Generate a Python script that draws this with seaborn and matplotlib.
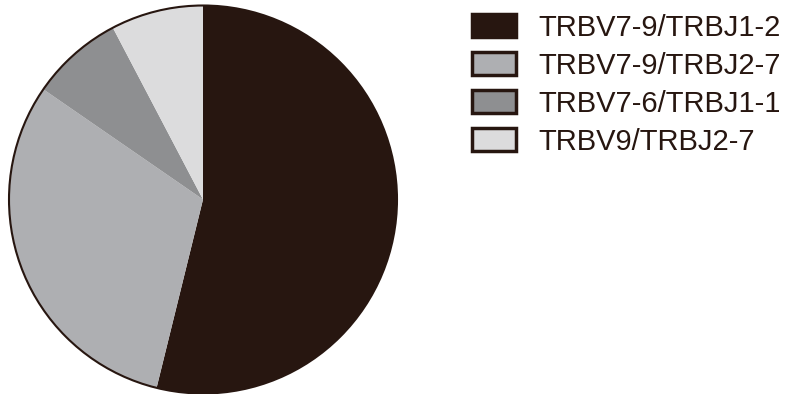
import seaborn as sns
import matplotlib.pyplot as plt
from matplotlib.patches import Patch, Circle

sns.set_style('white')
plt.rcParams['font.family'] = ['Liberation Sans', 'DejaVu Sans']

labels = ['TRBV7-9/TRBJ1-2', 'TRBV7-9/TRBJ2-7', 'TRBV7-6/TRBJ1-1', 'TRBV9/TRBJ2-7']
counts = [7, 4, 1, 1]
colors = ['#271610', '#aeafb2', '#8e8f91', '#dcdcdd']
edge = '#271610'

fig = plt.figure(figsize=(7.99, 3.94), dpi=100)
ax = fig.add_axes([6 / 799, -2.5 / 394, 394 / 799, 1])

ax.pie(counts, colors=colors, startangle=90, counterclock=False,
       wedgeprops={'linewidth': 0})
ax.add_patch(Circle((0, 0), 1, fill=False, edgecolor=edge, linewidth=1.5))
lim = 197 / 194
ax.set_xlim(-lim, lim)
ax.set_ylim(-lim, lim)
ax.set_aspect('equal')
ax.axis('off')

handles = [Patch(facecolor=c, edgecolor=edge, linewidth=2.5) for c in colors]
fig.legend(handles, labels, loc='upper left', bbox_to_anchor=(472 / 799, 0.965),
           frameon=False, fontsize=21, borderpad=0, borderaxespad=0,
           handlelength=1.5, handleheight=0.8, handletextpad=0.79,
           labelspacing=0.34, labelcolor=edge)

plt.savefig('out.png', dpi=100)
